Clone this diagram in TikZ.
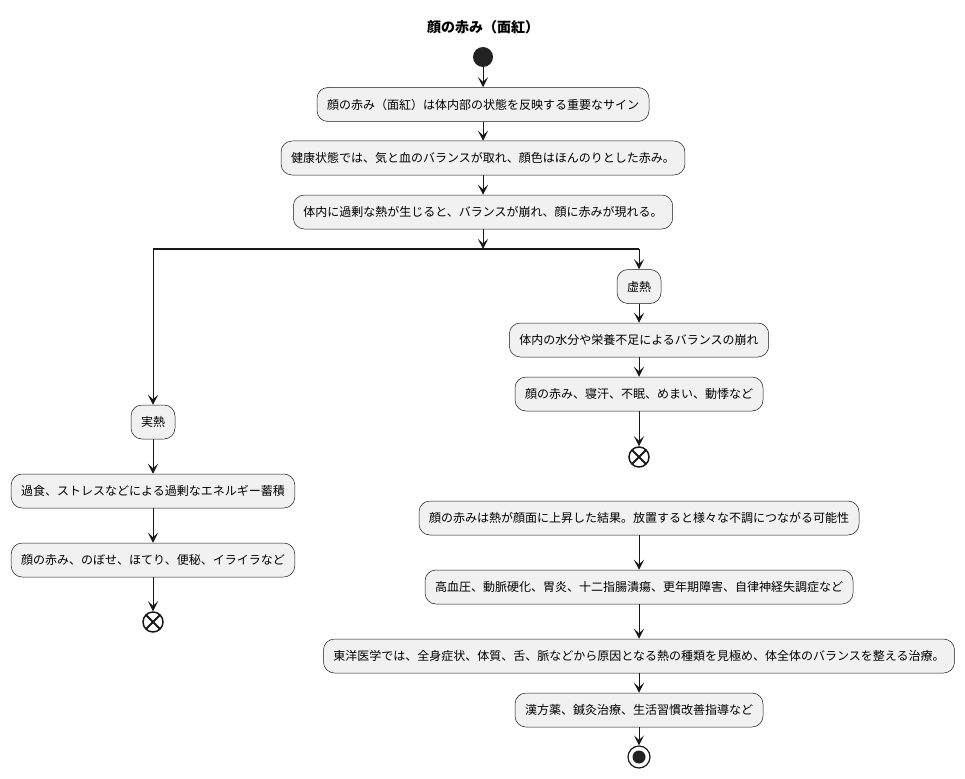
\documentclass[tikz,border=0pt]{standalone}
\usepackage{fontspec}
\setmainfont{Noto Sans CJK JP}
\usetikzlibrary{arrows.meta,positioning}
\definecolor{boxfill}{HTML}{F1F1F1}
\definecolor{lineblack}{HTML}{181818}
\definecolor{dotblack}{HTML}{222222}

\begin{document}
\begin{tikzpicture}[x=1pt, y=-1pt,
    box/.style={rectangle, draw=lineblack, fill=boxfill, rounded corners=11pt, line width=0.5pt,
                minimum height=34pt, inner xsep=10pt, font=\fontsize{12}{14}\selectfont},
    arr/.style={-{Stealth[length=10pt,width=10pt,inset=4.5pt]}, lineblack, line width=1pt},
    endx/.style={circle, draw=lineblack, line width=1.5pt, minimum size=20pt, inner sep=0pt,
                 path picture={\draw[lineblack, line width=1.8pt]
                   (path picture bounding box.north west) -- (path picture bounding box.south east)
                   (path picture bounding box.north east) -- (path picture bounding box.south west);}},
    stopdot/.style={circle, draw=lineblack, line width=1.2pt, minimum size=22pt, inner sep=0pt,
                 path picture={\fill[dotblack] (path picture bounding box.center) circle (6.5pt);}}
]
    \useasboundingbox (0,0) rectangle (965,778);

    \node[font=\bfseries\fontsize{14}{16}\selectfont] (title) at (483,27) {顔の赤み（面紅）};
    \node[circle, fill=dotblack, minimum size=20pt, inner sep=0pt] (start) at (483,57) {};

    \node[box] (sign) at (483,104.5) {顔の赤み（面紅）は体内部の状態を反映する重要なサイン};
    \node[box] (health) at (483,158) {健康状態では、気と血のバランスが取れ、顔色はほんのりとした赤み。};
    \node[box] (heat) at (483,212) {体内に過剰な熱が生じると、バランスが崩れ、顔に赤みが現れる。};

    \coordinate (fork) at (483,249);
    \coordinate (forkL) at (153,249);
    \coordinate (forkR) at (639,249);

    % 虚熱
    \node[box] (kyo) at (639,286.5) {虚熱};
    \node[box] (kyoCause) at (639,340) {体内の水分や栄養不足によるバランスの崩れ};
    \node[box] (kyoSym) at (639,394) {顔の赤み、寝汗、不眠、めまい、動悸など};
    \node[endx] (kyoEnd) at (639,457) {};

    % 実熱
    \node[box] (jitsu) at (153,422) {実熱};
    \node[box] (jitsuCause) at (153,491) {過食、ストレスなどによる過剰なエネルギー蓄積};
    \node[box] (jitsuSym) at (153,560) {顔の赤み、のぼせ、ほてり、便秘、イライラなど};
    \node[endx] (jitsuEnd) at (153,622) {};

    \node[box] (result) at (639,518) {顔の赤みは熱が顔面に上昇した結果。放置すると様々な不調につながる可能性};
    \node[box] (disease) at (639,587) {高血圧、動脈硬化、胃炎、十二指腸潰瘍、更年期障害、自律神経失調症など};
    \node[box] (tcm) at (639,656) {東洋医学では、全身症状、体質、舌、脈などから原因となる熱の種類を見極め、体全体のバランスを整える治療。};
    \node[box] (therapy) at (639,710) {漢方薬、鍼灸治療、生活習慣改善指導など};
    \node[stopdot] (stop) at (639,757) {};

    \draw[arr] (start) -- (sign);
    \draw[arr] (sign) -- (health);
    \draw[arr] (health) -- (heat);
    \draw[arr] (heat) -- (fork);
    \draw[lineblack, line width=1.5pt] (forkL) -- (forkR);
    \draw[arr] (forkR) -- (kyo);
    \draw[arr] (kyo) -- (kyoCause);
    \draw[arr] (kyoCause) -- (kyoSym);
    \draw[arr] (kyoSym) -- (kyoEnd);
    \draw[arr] (forkL) -- (jitsu);
    \draw[arr] (jitsu) -- (jitsuCause);
    \draw[arr] (jitsuCause) -- (jitsuSym);
    \draw[arr] (jitsuSym) -- (jitsuEnd);
    \draw[arr] (result) -- (disease);
    \draw[arr] (disease) -- (tcm);
    \draw[arr] (tcm) -- (therapy);
    \draw[arr] (therapy) -- (stop);
\end{tikzpicture}
\end{document}
